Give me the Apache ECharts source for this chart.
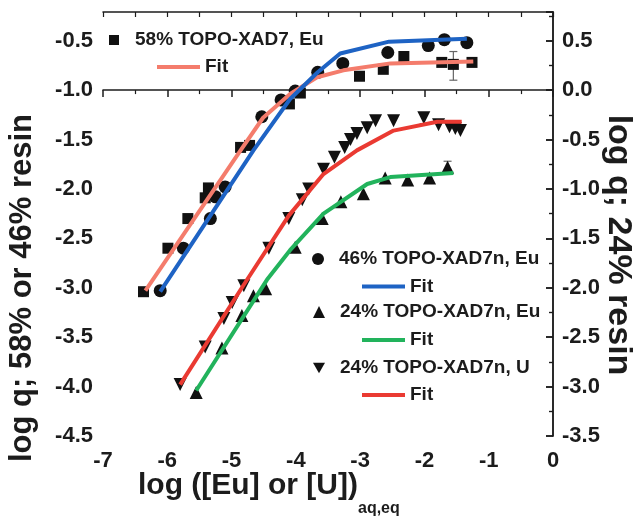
<!DOCTYPE html>
<html>
<head>
<meta charset="utf-8">
<script src="https://cdn.jsdelivr.net/npm/echarts@6/dist/echarts.min.js"></script>
<style>
  html, body { margin: 0; padding: 0; background: #fff; }
  #chart { width: 636px; height: 520px; }
</style>
</head>
<body>
<div id="chart"></div>
<script>
// measured points: [log c, log q]
const eu58 = [[-6.37, -3.04], [-5.99, -2.60], [-5.68, -2.30], [-5.41, -2.09], [-5.36, -1.99],
  [-4.86, -1.58], [-4.72, -1.56], [-4.10, -1.14], [-3.93, -1.03], [-3.01, -0.86],
  [-2.64, -0.79], [-2.32, -0.66], [-1.73, -0.72], [-1.55, -0.74], [-1.26, -0.72]];
const eu46 = [[-6.11, -3.03], [-5.75, -2.60], [-5.33, -2.30], [-5.25, -2.08], [-5.10, -1.98],
  [-4.53, -1.27], [-4.23, -1.10], [-4.01, -1.01], [-3.66, -0.82], [-3.27, -0.73],
  [-2.57, -0.62], [-1.94, -0.55], [-1.69, -0.49], [-1.34, -0.52]];
const eu24 = [[-5.55, -3.06], [-5.15, -2.61], [-4.84, -2.28], [-4.66, -2.08], [-4.47, -2.01],
  [-4.01, -1.59], [-3.59, -1.30], [-3.30, -1.13], [-2.95, -1.05], [-2.61, -0.89],
  [-2.26, -0.91], [-1.92, -0.89], [-1.64, -0.78]];
const u24 = [[-5.80, -2.98], [-5.41, -2.60], [-5.12, -2.31], [-4.99, -2.15], [-4.81, -1.98],
  [-4.42, -1.60], [-4.11, -1.30], [-3.90, -1.11], [-3.80, -1.00], [-3.57, -0.80],
  [-3.40, -0.68], [-3.24, -0.58], [-3.15, -0.50], [-3.05, -0.44], [-2.89, -0.38],
  [-2.76, -0.31], [-2.48, -0.31], [-2.01, -0.28], [-1.78, -0.35], [-1.61, -0.37],
  [-1.52, -0.39], [-1.44, -0.41]];

// fit curves
const fitEu58 = [[-6.34, -3.03], [-4.86, -1.61], [-4.51, -1.28], [-4.09, -1.04], [-3.67, -0.87],
  [-3.26, -0.80], [-2.53, -0.73], [-1.24, -0.71]];
const fitEu46 = [[-6.11, -3.04], [-4.66, -1.61], [-4.09, -1.09], [-3.66, -0.82], [-3.31, -0.63],
  [-2.55, -0.51], [-1.34, -0.48]];
const fitEu24 = [[-5.55, -3.04], [-4.45, -1.92], [-4.09, -1.62], [-3.57, -1.25], [-2.89, -0.95],
  [-2.53, -0.88], [-1.55, -0.84]];
const fitU24 = [[-5.80, -2.98], [-4.81, -1.97], [-4.11, -1.27], [-3.57, -0.85], [-3.05, -0.61],
  [-2.48, -0.41], [-1.80, -0.32], [-1.42, -0.32]];

// error bars: [log c, low, high]
const errLeft = [[-1.55, -0.90, -0.61], [-1.73, -0.76, -0.68], [-1.69, -0.53, -0.45], [-1.94, -0.59, -0.51]];
const errRight = [[-1.64, -0.85, -0.72], [-2.01, -0.34, -0.23], [-1.92, -0.93, -0.85], [-2.26, -0.94, -0.87]];

const xRange = [-7, 0];
const leftRange = [-4.5, -0.21];
const rightRange = [-3.5, 0.79];

const FONT = "'Liberation Sans', Arial, sans-serif";
const INK = "#1c1c1c";
const triDown = "path://M0,0 L10,0 L5,8.7 Z";

const chart = echarts.init(document.getElementById("chart"), null, { renderer: "canvas" });

function errorBar(params, api) {
  const x = api.value(0);
  const lo = api.coord([x, api.value(1)]);
  const hi = api.coord([x, api.value(2)]);
  const cap = 4;
  const style = { stroke: "#666", lineWidth: 1.2 };
  return {
    type: "group",
    children: [
      { type: "line", shape: { x1: lo[0], y1: lo[1], x2: hi[0], y2: hi[1] }, style },
      { type: "line", shape: { x1: lo[0] - cap, y1: lo[1], x2: lo[0] + cap, y2: lo[1] }, style },
      { type: "line", shape: { x1: hi[0] - cap, y1: hi[1], x2: hi[0] + cap, y2: hi[1] }, style }
    ]
  };
}

const axisLine = { lineStyle: { color: INK, width: 1.5 } };
const labelStyle = { color: INK, fontFamily: FONT, fontWeight: "bold", fontSize: 22 };
const legendText = { color: INK, fontFamily: FONT, fontWeight: "bold", fontSize: 19 };

// marker rows: symbol box centred on cx, label 21px right of it
function markerLegend(name, icon, size, cx, cy) {
  return {
    data: [{ name: name, icon: icon }],
    left: cx - size / 2,
    top: cy - 9.5,
    padding: 0,
    selectedMode: false,
    itemWidth: size,
    itemHeight: size,
    textStyle: Object.assign({ padding: [0, 0, 0, 21 - size / 2 - 5] }, legendText)
  };
}

// "Fit" rows: a short thick bar, then the word
function fitLegend(name, left, cy) {
  return {
    data: [{ name: name, icon: "rect" }],
    left: left,
    top: cy - 9.5,
    padding: 0,
    selectedMode: false,
    itemWidth: 43,
    itemHeight: 4,
    formatter: () => "Fit",
    textStyle: legendText
  };
}

function fitSeries(name, data, color, yIndex) {
  return {
    name: name,
    type: "line",
    yAxisIndex: yIndex,
    data: data,
    symbol: "none",
    z: 4,
    color: color,
    lineStyle: { color: color, width: 4 }
  };
}

function pointSeries(name, data, symbol, size, yIndex) {
  return {
    name: name,
    type: "scatter",
    yAxisIndex: yIndex,
    data: data,
    symbol: symbol,
    symbolSize: size,
    z: 3,
    itemStyle: { color: "#111", opacity: 1 }
  };
}

const option = {
  animation: false,
  backgroundColor: "#fff",
  grid: { left: 103, right: 83, top: 12, bottom: 84 },
  legend: [
    markerLegend("58% TOPO-XAD7, Eu", "rect", 10, 114, 40),
    fitLegend("Fit 58", 157, 67),
    markerLegend("46% TOPO-XAD7n, Eu", "circle", 12, 318, 259),
    fitLegend("Fit 46", 362, 286.5),
    markerLegend("24% TOPO-XAD7n, Eu", "triangle", 12, 319, 312),
    fitLegend("Fit 24 Eu", 362, 340),
    markerLegend("24% TOPO-XAD7n, U", triDown, 12, 319, 368),
    fitLegend("Fit 24 U", 362, 395)
  ],
  xAxis: [
    {
      type: "value", position: "bottom", min: xRange[0], max: xRange[1], interval: 1,
      axisLine: axisLine,
      axisTick: { length: 7, lineStyle: { color: INK, width: 1.5 } },
      minorTick: { show: true, splitNumber: 2, length: 4, lineStyle: { color: INK, width: 1.2 } },
      axisLabel: Object.assign({ margin: 14 }, labelStyle),
      splitLine: { show: false }
    },
    {
      type: "value", position: "top", min: xRange[0], max: xRange[1], interval: 0.5,
      axisLine: axisLine,
      axisTick: { inside: true, length: 5, lineStyle: { color: INK, width: 1.2 } },
      axisLabel: { show: false },
      splitLine: { show: false }
    }
  ],
  yAxis: [
    {
      type: "value", position: "left", min: leftRange[0], max: leftRange[1], interval: 0.5,
      axisLine: Object.assign({ show: true }, axisLine),
      axisTick: { show: true, length: 7, lineStyle: { color: INK, width: 1.5 } },
      minorTick: { show: true, splitNumber: 2, length: 4, lineStyle: { color: INK, width: 1.2 } },
      axisLabel: Object.assign({ margin: 10, showMaxLabel: false, formatter: (v) => v.toFixed(1) }, labelStyle),
      splitLine: { show: false }
    },
    {
      type: "value", position: "right", min: rightRange[0], max: rightRange[1], interval: 0.5,
      axisLine: Object.assign({ show: true }, axisLine),
      axisTick: { show: true, inside: true, length: 7, lineStyle: { color: INK, width: 1.5 } },
      minorTick: { show: true, splitNumber: 2, length: 4, lineStyle: { color: INK, width: 1.2 } },
      axisLabel: Object.assign({ margin: 9, showMaxLabel: false, formatter: (v) => v.toFixed(1) }, labelStyle),
      splitLine: { show: false }
    }
  ],
  series: [
    pointSeries("58% TOPO-XAD7, Eu", eu58, "rect", 11, 0),
    pointSeries("46% TOPO-XAD7n, Eu", eu46, "circle", 13, 0),
    pointSeries("24% TOPO-XAD7n, Eu", eu24, "triangle", 13, 1),
    pointSeries("24% TOPO-XAD7n, U", u24, triDown, 13, 1),
    { type: "custom", yAxisIndex: 0, data: errLeft, renderItem: errorBar, z: 2 },
    { type: "custom", yAxisIndex: 1, data: errRight, renderItem: errorBar, z: 2 },
    fitSeries("Fit 58", fitEu58, "#f47c6c", 0),
    fitSeries("Fit 46", fitEu46, "#1e63c4", 0),
    fitSeries("Fit 24 Eu", fitEu24, "#22b35c", 1),
    fitSeries("Fit 24 U", fitU24, "#ea3a32", 1)
  ],
  graphic: [
    {
      type: "text", x: 22, y: 288, rotation: Math.PI / 2,
      style: {
        text: "log q; 58% or 46% resin", fill: INK, font: "bold 31px " + FONT,
        align: "center", verticalAlign: "middle"
      }
    },
    {
      type: "text", x: 618, y: 245, rotation: -Math.PI / 2,
      style: {
        text: "log q; 24% resin", fill: INK, font: "bold 34px " + FONT,
        align: "center", verticalAlign: "middle"
      }
    },
    {
      type: "text", x: 138, y: 486,
      style: {
        text: "log ([Eu] or [U])", fill: INK, font: "bold 30px " + FONT,
        align: "left", verticalAlign: "middle"
      }
    },
    {
      type: "text", x: 358, y: 509,
      style: {
        text: "aq,eq", fill: INK, font: "bold 16px " + FONT,
        align: "left", verticalAlign: "middle"
      }
    }
  ]
};

chart.setOption(option);
</script>
</body>
</html>
